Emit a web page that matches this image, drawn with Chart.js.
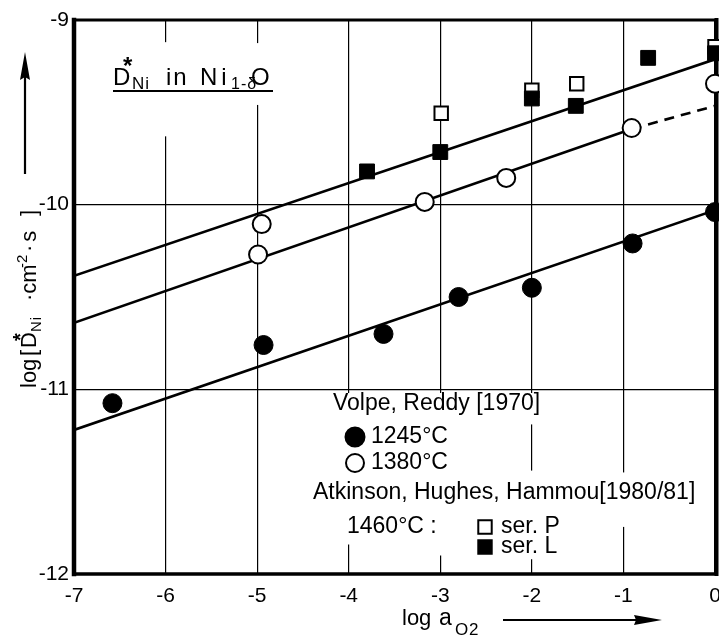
<!DOCTYPE html>
<html><head><meta charset="utf-8">
<script src="https://cdn.jsdelivr.net/npm/chart.js@4/dist/chart.umd.min.js"></script>
<style>html,body{margin:0;padding:0;background:#fff;}#wrap{width:719px;height:637px;}</style>
</head><body><div id="wrap"><canvas id="c" width="719" height="637"></canvas></div>
<script>
// ---- data ----
const xTicks = [-7, -6, -5, -4, -3, -2, -1, 0];
const yTicks = [-12, -11, -10, -9];

// Volpe, Reddy [1970], 1245 °C (filled circles)
const v1245X = [-6.58, -4.93, -3.62, -2.80, -2.00, -0.90, 0.00];
const v1245Y = [-11.075, -10.76, -10.70, -10.50, -10.45, -10.21, -10.04];
// Volpe, Reddy [1970], 1380 °C (open circles)
const v1380X = [-4.95, -4.99, -3.17, -2.28, -0.91, 0.00];
const v1380Y = [-10.105, -10.27, -9.985, -9.855, -9.585, -9.345];
// Atkinson, Hughes, Hammou, 1460 °C ser. P (open squares)
const serPX = [-2.99, -2.00, -1.51, 0.00];
const serPY = [-9.505, -9.38, -9.345, -9.145];
// Atkinson, Hughes, Hammou, 1460 °C ser. L (filled squares)
const serLX = [-3.80, -3.00, -2.00, -1.52, -0.73, 0.00];
const serLY = [-9.82, -9.715, -9.425, -9.465, -9.205, -9.18];
// fitted lines (end points)
const fit1245X = [-7, 0];      const fit1245Y = [-11.22, -10.03];
const fit1380X = [-7, -0.91];  const fit1380Y = [-10.64, -9.59];
const fit1380dX = [-0.91, 0];  const fit1380dY = [-9.59, -9.465];
const fitLX = [-7, 0];         const fitLY = [-10.385, -9.213];

// grid-line gaps (x value, y from, y to)
const gridGaps = [[-6, -9.12, -9.63], [-5, -9.125, -9.46], [-4, -11.02, -11.84], [-3, -11.02, -11.90],
  [-2, -11.02, -11.19], [-2, -11.44, -11.92], [-1, -11.45, -11.745]];

const pts = (xs, ys) => xs.map((x, i) => ({x, y: ys[i]}));
const FONT = 'Liberation Sans';

function txt(ctx, s, x, y, size, opts) {
  opts = opts || {};
  ctx.font = (opts.bold ? 'bold ' : '') + size + 'px "' + FONT + '"';
  ctx.textAlign = opts.align || 'left';
  ctx.textBaseline = opts.base || 'alphabetic';
  ctx.letterSpacing = opts.ls || '0px';
  ctx.fillText(s, x, y);
  const w = ctx.measureText(s).width;
  ctx.letterSpacing = '0px';
  return w;
}

const decor = {
  id: 'decor',
  beforeDatasetsDraw(chart) {
    const {ctx, chartArea: a, scales: {x, y}} = chart;
    ctx.save();
    ctx.strokeStyle = '#fff'; ctx.lineWidth = 4;
    gridGaps.forEach(([gx, y1, y2]) => {
      const px = x.getPixelForValue(gx);
      ctx.beginPath(); ctx.moveTo(px, y.getPixelForValue(y1)); ctx.lineTo(px, y.getPixelForValue(y2)); ctx.stroke();
    });
    ctx.strokeStyle = '#000';
    const seg = (x1, y1, x2, y2, w) => { ctx.lineWidth = w; ctx.beginPath(); ctx.moveTo(x1, y1); ctx.lineTo(x2, y2); ctx.stroke(); };
    ctx.lineCap = 'square';
    seg(a.left, a.top, a.right, a.top, 3);
    seg(a.left, a.bottom, a.right, a.bottom, 3.5);
    seg(a.left, a.top, a.left, a.bottom, 4.5);
    seg(a.right + 1.5, a.top, a.right + 1.5, a.bottom, 4);
    ctx.restore();
  },
  afterDraw(chart) {
    const ctx = chart.ctx;
    ctx.save();
    ctx.fillStyle = '#000'; ctx.strokeStyle = '#000';
    // title box
    txt(ctx, 'D', 113, 85, 24);
    txt(ctx, '*', 123, 74, 24, {bold: true});
    txt(ctx, 'Ni', 132, 89, 17, {ls: '1px'});
    txt(ctx, 'in', 166, 85, 24, {ls: '2px'});
    txt(ctx, 'Ni', 200, 85, 24, {ls: '4px'});
    txt(ctx, '1-δ', 231, 89, 16, {ls: '1px'});
    txt(ctx, 'O', 251, 85, 24);
    ctx.lineWidth = 2; ctx.beginPath(); ctx.moveTo(113, 91); ctx.lineTo(273, 91); ctx.stroke();

    // legend
    txt(ctx, 'Volpe, Reddy [1970]', 333, 404, 23, {base: 'middle'});
    Chart.helpers.drawPoint(ctx, {pointStyle: 'circle', radius: 9.5, borderWidth: 1}, 355, 437);
    txt(ctx, '1245°C', 371, 437, 23, {base: 'middle'});
    ctx.fillStyle = '#fff'; ctx.lineWidth = 2;
    Chart.helpers.drawPoint(ctx, {pointStyle: 'circle', radius: 9, borderWidth: 2}, 355, 463);
    ctx.fillStyle = '#000';
    txt(ctx, '1380°C', 371, 463, 23, {base: 'middle'});
    txt(ctx, 'Atkinson, Hughes, Hammou[1980/81]', 313, 493, 23, {base: 'middle'});
    txt(ctx, '1460°C :', 347, 527, 23, {base: 'middle'});
    ctx.fillStyle = '#fff';
    Chart.helpers.drawPoint(ctx, {pointStyle: 'rect', radius: 9.5, borderWidth: 2}, 485, 527);
    ctx.fillStyle = '#000';
    Chart.helpers.drawPoint(ctx, {pointStyle: 'rect', radius: 9.5, borderWidth: 1}, 485, 547);
    txt(ctx, 'ser. P', 501, 527, 23, {base: 'middle'});
    txt(ctx, 'ser. L', 501, 547, 23, {base: 'middle'});

    // x axis title + arrow
    txt(ctx, 'log', 402, 625, 22);
    txt(ctx, 'a', 439, 625, 23);
    txt(ctx, 'O', 455, 635, 17);
    txt(ctx, '2', 469, 635, 17);
    ctx.lineWidth = 2.2; ctx.beginPath(); ctx.moveTo(503, 620); ctx.lineTo(640, 620); ctx.stroke();
    ctx.beginPath(); ctx.moveTo(662, 620); ctx.lineTo(634, 615); ctx.lineTo(636, 620); ctx.lineTo(634, 625); ctx.closePath(); ctx.fill();

    // y axis title + arrow (rotated)
    ctx.lineWidth = 2.2; ctx.beginPath(); ctx.moveTo(25, 174); ctx.lineTo(25, 75); ctx.stroke();
    ctx.beginPath(); ctx.moveTo(25, 52); ctx.lineTo(20, 80); ctx.lineTo(25, 77); ctx.lineTo(30, 80); ctx.closePath(); ctx.fill();
    ctx.translate(36, 388); ctx.rotate(-Math.PI / 2);
    txt(ctx, 'log', 0, 0, 22);
    txt(ctx, '[', 32, 0, 22);
    txt(ctx, 'D', 40, 0, 22);
    txt(ctx, '*', 47, -9, 20, {bold: true});
    txt(ctx, 'Ni', 56, 5, 15, {ls: '1px'});
    txt(ctx, '·cm', 87, 0, 22);
    txt(ctx, '-2', 120, -9, 15);
    txt(ctx, '·s', 136, 0, 22, {ls: '3px'});
    txt(ctx, ']', 172, 0, 22);
    ctx.restore();
  }
};

const tickFont = {family: FONT, size: 21};
new Chart(document.getElementById('c'), {
  type: 'scatter',
  data: {
    datasets: [
      {data: pts(fit1245X, fit1245Y), showLine: true, borderColor: '#000', borderWidth: 2.6, pointRadius: 0, order: 5},
      {data: pts(fit1380X, fit1380Y), showLine: true, borderColor: '#000', borderWidth: 2.6, pointRadius: 0, order: 5},
      {data: pts(fit1380dX, fit1380dY), showLine: true, borderColor: '#000', borderWidth: 2.6, borderDash: [10, 7], pointRadius: 0, order: 5},
      {data: pts(fitLX, fitLY), showLine: true, borderColor: '#000', borderWidth: 2.6, pointRadius: 0, order: 5},
      {data: pts(v1245X, v1245Y), pointStyle: 'circle', pointRadius: 9.5, backgroundColor: '#000', borderColor: '#000', borderWidth: 1, order: 3, clip: false},
      {data: pts(v1380X, v1380Y), pointStyle: 'circle', pointRadius: 9, backgroundColor: '#fff', borderColor: '#000', borderWidth: 2, order: 3, clip: false},
      {data: pts(serPX, serPY), pointStyle: 'rect', pointRadius: 9.5, backgroundColor: '#fff', borderColor: '#000', borderWidth: 2, order: 2, clip: false},
      {data: pts(serLX, serLY), pointStyle: 'rect', pointRadius: 10.5, backgroundColor: '#000', borderColor: '#000', borderWidth: 1, order: 1, clip: false}
    ]
  },
  options: {
    responsive: false, animation: false, devicePixelRatio: 1,
    layout: {autoPadding: false, padding: {top: 20, right: 4, left: 0, bottom: 0}},
    plugins: {legend: {display: false}, tooltip: {enabled: false}},
    elements: {point: {hoverRadius: 0}},
    scales: {
      x: {
        type: 'linear', min: -7, max: 0,
        afterBuildTicks: s => { s.ticks = xTicks.map(v => ({value: v})); },
        afterFit: s => { s.height = 63; s.paddingLeft = 0; s.paddingRight = 0; },
        grid: {color: '#000', lineWidth: 1.2, drawTicks: false, tickLength: 0},
        border: {display: false},
        ticks: {font: tickFont, color: '#000', padding: 10, autoSkip: false, maxRotation: 0, callback: v => String(v)}
      },
      y: {
        type: 'linear', min: -12, max: -9,
        afterBuildTicks: s => { s.ticks = yTicks.map(v => ({value: v})); },
        afterFit: s => { s.width = 74; s.paddingTop = 0; s.paddingBottom = 0; },
        grid: {color: '#000', lineWidth: 1.2, drawTicks: false, tickLength: 0},
        border: {display: false},
        ticks: {font: tickFont, color: '#000', padding: 5, autoSkip: false, callback: v => String(v)}
      }
    }
  },
  plugins: [decor]
});
</script></body></html>
